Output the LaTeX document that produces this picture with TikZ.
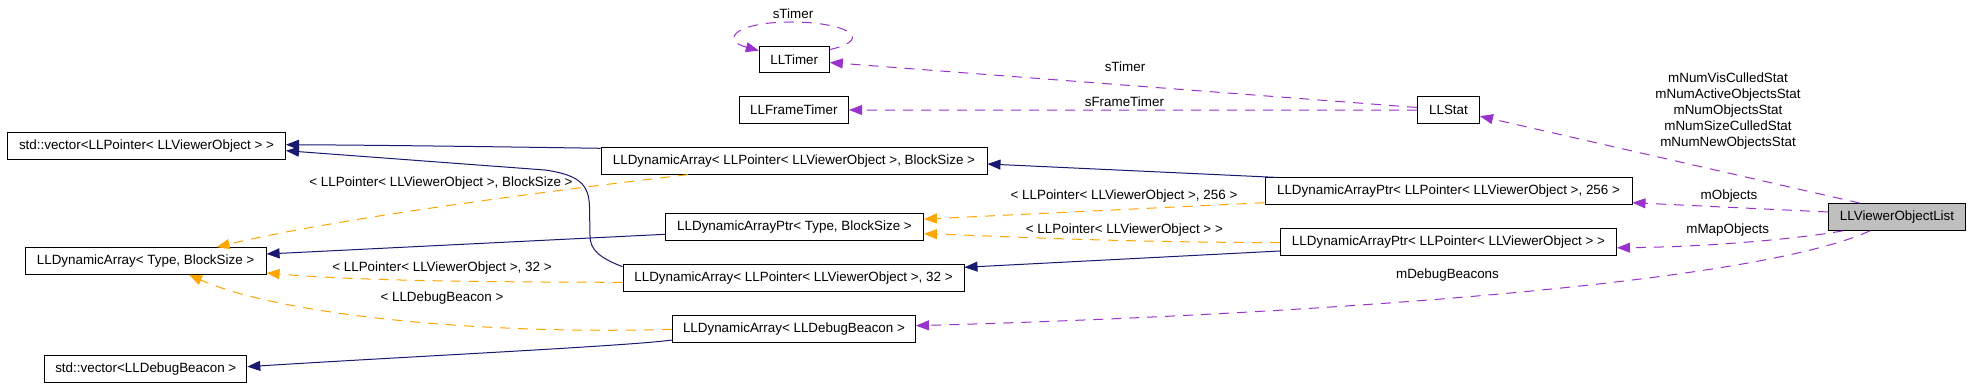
\documentclass[tikz,border=0pt]{standalone}
\usepackage{fontspec}
\setmainfont{Liberation Sans}
\usetikzlibrary{arrows.meta,calc}
\definecolor{inh}{RGB}{25,25,112}
\definecolor{tmpl}{RGB}{255,165,0}
\definecolor{usg}{RGB}{154,50,205}
\definecolor{hl}{RGB}{191,191,191}
\begin{document}
\begin{tikzpicture}[x=1pt,y=-1pt,
  box/.style={draw=black, fill=white, line width=1pt, minimum height=26.7pt, inner sep=0pt, font=\fontsize{13.4}{16}\selectfont},
  lbl/.style={font=\fontsize{13.4}{15.9}\selectfont, inner sep=0pt, align=center},
  tip/.style={-{Triangle[length=13pt,width=10pt]}},
  inhedge/.style={draw=inh, line width=1pt, tip},
  tmpledge/.style={draw=tmpl, line width=1pt, dash pattern=on 10pt off 8pt, tip},
  useedge/.style={draw=usg, line width=1pt, dash pattern=on 10pt off 8pt, tip}]
\fill[white] (0,0) rectangle (1971,387);
\useasboundingbox (0,0) rectangle (1971,387);

% nodes
\node[box, minimum width=70pt] (timer) at (794.3,59.5) {LLTimer};
\node[box, minimum width=109.5pt] (ftimer) at (793.8,110) {LLFrameTimer};
\node[box, minimum width=62pt] (stat) at (1448.5,110.2) {LLStat};
\node[box, minimum width=278pt] (vecptr) at (146.5,145.8) {std::vector<LLPointer< LLViewerObject > >};
\node[box, minimum width=386pt] (dabs) at (794,160.8) {LLDynamicArray< LLPointer< LLViewerObject >, BlockSize >};
\node[box, minimum width=367pt] (dap256) at (1448.5,191.3) {LLDynamicArrayPtr< LLPointer< LLViewerObject >, 256 >};
\node[box, minimum width=137pt, fill=hl] (list) at (1897,217) {LLViewerObjectList};
\node[box, minimum width=258pt] (daptbs) at (794.5,227.3) {LLDynamicArrayPtr< Type, BlockSize >};
\node[box, minimum width=336pt] (dapll) at (1448.5,241.8) {LLDynamicArrayPtr< LLPointer< LLViewerObject > >};
\node[box, minimum width=241pt] (datbs) at (145.6,261) {LLDynamicArray< Type, BlockSize >};
\node[box, minimum width=341pt] (da32) at (793.5,277.7) {LLDynamicArray< LLPointer< LLViewerObject >, 32 >};
\node[box, minimum width=243pt] (dadb) at (794,329) {LLDynamicArray< LLDebugBeacon >};
\node[box, minimum width=202pt] (vecdb) at (145.8,368.7) {std::vector<LLDebugBeacon >};

% usage edges (purple)
\draw[useedge] ([yshift=-4pt]timer.north east) .. controls (878,38) and (842,22) .. (792,22)
  .. controls (735,22) and (720,40) .. ([yshift=-5pt]timer.north west);
\node[lbl] (lself) at (793,14) {sTimer};
\draw[useedge] ([yshift=2.7pt]stat.west) -- ([yshift=-3pt]timer.east);
\node[lbl] (lstimer) at (1125,66.7) {sTimer};
\draw[useedge] (stat.west) -- (ftimer.east);
\node[lbl] (lsft) at (1124.4,101.7) {sFrameTimer};
\draw[useedge] ([xshift=-37pt]list.north) -- ([yshift=-6pt]stat.east);
\node[lbl] (lstats) at (1728,110.8) {mNumVisCulledStat\\mNumActiveObjectsStat\\mNumObjectsStat\\mNumSizeCulledStat\\mNumNewObjectsStat};
\draw[useedge] ([yshift=5pt]list.west) -- ([yshift=-11.4pt]dap256.east);
\node[lbl] (lobj) at (1729,195.7) {mObjects};
\draw[useedge] ([xshift=-54pt]list.south) .. controls (1790,240) and (1700,247) .. ([yshift=-6pt]dapll.east);
\node[lbl] (lmap) at (1727.7,230) {mMapObjects};
\draw[useedge] ([xshift=-27pt]list.south) .. controls (1750,285) and (1300,315) .. ([yshift=3.3pt]dadb.east);
\node[lbl] (ldbg) at (1447.5,274.7) {mDebugBeacons};

% inheritance edges (navy)
\draw[inhedge] ([yshift=12.5pt]dabs.west) .. controls (450,146) and (350,145) .. ([yshift=1.1pt]vecptr.east);
\draw[inhedge] ([yshift=11pt]da32.west) .. controls (600,258) and (590,250) .. (590,236) -- (589.5,207)
  .. controls (589,185) and (580,175) .. (545,170) -- ([yshift=-4.9pt]vecptr.east);
\draw[inhedge] ([yshift=-7pt]daptbs.west) -- ([yshift=7pt]datbs.east);
\draw[inhedge] ([xshift=13pt]dap256.north west) -- ([yshift=-3.2pt]dabs.east);
\draw[inhedge] ([yshift=-9.2pt]dapll.west) -- ([yshift=10.4pt]da32.east);
\draw[inhedge] ([yshift=-11pt]dadb.west) .. controls (630,346) and (400,357) .. ([yshift=2pt]vecdb.east);

% template edges (orange)
\draw[tmpledge] ([xshift=-106pt]dabs.south) .. controls (600,185) and (350,215) .. ([xshift=71pt]datbs.north);
\node[lbl] (lt1) at (441,183) {< LLPointer< LLViewerObject >, BlockSize >};
\draw[tmpledge] ([yshift=-11.4pt]dap256.west) -- ([yshift=8.2pt]daptbs.east);
\node[lbl] (lt2) at (1124,195.7) {< LLPointer< LLViewerObject >, 256 >};
\draw[tmpledge] ([yshift=-0.9pt]dapll.west) .. controls (1100,242) and (1000,236) .. ([yshift=-6.5pt]daptbs.east);
\node[lbl] (lt3) at (1124.4,230) {< LLPointer< LLViewerObject > >};
\draw[tmpledge] ([yshift=-4.6pt]da32.west) .. controls (450,282) and (350,280) .. ([yshift=-12pt]datbs.east);
\node[lbl] (lt4) at (442,268.3) {< LLPointer< LLViewerObject >, 32 >};
\draw[tmpledge] ([yshift=-0.3pt]dadb.west) .. controls (480,335) and (280,315) .. ([xshift=43.4pt]datbs.south);
\node[lbl] (lt5) at (442,298.3) {< LLDebugBeacon >};
\end{tikzpicture}
\end{document}
